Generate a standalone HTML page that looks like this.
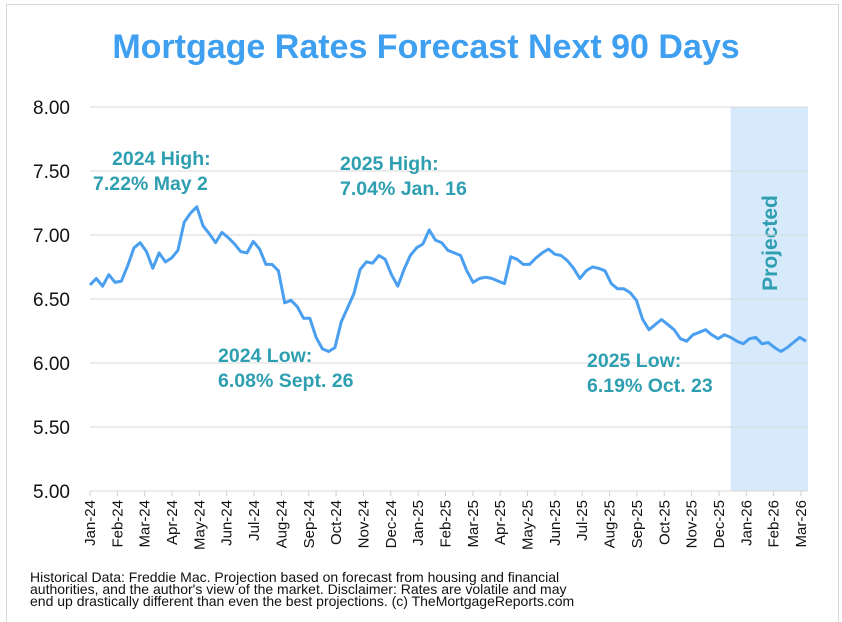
<!DOCTYPE html>
<html><head><meta charset="utf-8"><style>
body{margin:0;background:#fff;font-family:"Liberation Sans",sans-serif;}
#wrap{position:relative;width:842px;height:622px;overflow:hidden;}
#frame{position:absolute;left:6px;top:4px;width:831px;height:640px;border:1px solid #d8d8d8;}
</style></head><body>
<div id="wrap">
<div id="frame"></div>
<svg id="chart" width="842" height="622" style="position:absolute;left:0;top:0"></svg>
</div>
<script>
const months=["Jan-24","Feb-24","Mar-24","Apr-24","May-24","Jun-24","Jul-24","Aug-24","Sep-24","Oct-24","Nov-24","Dec-24","Jan-25","Feb-25","Mar-25","Apr-25","May-25","Jun-25","Jul-25","Aug-25","Sep-25","Oct-25","Nov-25","Dec-25","Jan-26","Feb-26","Mar-26"];
const yTicks=[5.00,5.50,6.00,6.50,7.00,7.50,8.00];
const rates=[6.61,6.66,6.60,6.69,6.63,6.64,6.76,6.90,6.94,6.87,6.74,6.86,6.79,6.82,6.88,7.10,7.17,7.22,7.07,7.01,6.94,7.02,6.98,6.93,6.87,6.86,6.95,6.89,6.77,6.77,6.72,6.47,6.49,6.44,6.35,6.35,6.20,6.11,6.09,6.12,6.32,6.43,6.54,6.73,6.79,6.78,6.84,6.81,6.69,6.60,6.73,6.84,6.90,6.93,7.04,6.96,6.94,6.88,6.86,6.84,6.72,6.63,6.66,6.67,6.66,6.64,6.62,6.83,6.81,6.77,6.77,6.82,6.86,6.89,6.85,6.84,6.80,6.74,6.66,6.72,6.75,6.74,6.72,6.62,6.58,6.58,6.55,6.49,6.34,6.26,6.30,6.34,6.30,6.26,6.19,6.17,6.22,6.24,6.26,6.22,6.19,6.22,6.20,6.17,6.15,6.19,6.20,6.15,6.16,6.12,6.09,6.12,6.16,6.20,6.17];
const projectedStart=102;
const annotations=[
 {l1:"2024 High:",l2:"7.22% May 2",x1:112,x2:93,y:165},
 {l1:"2025 High:",l2:"7.04% Jan. 16",x1:340,x2:340,y:170},
 {l1:"2024 Low:",l2:"6.08% Sept. 26",x1:218,x2:218,y:362},
 {l1:"2025 Low:",l2:"6.19% Oct. 23",x1:587,x2:587,y:367}
];
const NS="http://www.w3.org/2000/svg";
const svg=document.getElementById('chart');
const X0=90,X1=808,Y0=491,Y1=107;
function yS(v){return Y0-(v-5)/(8-5)*(Y0-Y1);}
function xI(i){return X0+i*(X1-2-X0)/(rates.length-1);}
function xM(i){return X0+i*(801-X0)/(months.length-1);}
function mk(tag,attrs,parent){const e=document.createElementNS(NS,tag);for(const k in attrs)e.setAttribute(k,attrs[k]);(parent||svg).appendChild(e);return e;}
let t=mk('text',{x:426,y:58,'text-anchor':'middle','font-size':'34','font-weight':'bold',fill:'#3f9ff0'});
t.textContent="Mortgage Rates Forecast Next 90 Days";


let band=mk('rect',{x:xI(projectedStart),y:Y1,width:X1-xI(projectedStart),height:Y0-Y1,fill:'#d7eafc'});


let pt=mk('text',{x:0,y:0,transform:`translate(777,243) rotate(-90)`,'text-anchor':'middle','font-size':'21','font-weight':'bold',fill:'#2e9fb0'});
pt.textContent="Projected";


yTicks.forEach(v=>{
 let g=mk('line',{x1:X0,x2:X1,y1:yS(v),y2:yS(v),stroke:'#d9d9d9','stroke-width':1});
 
 
 let l=mk('text',{x:70,y:yS(v)+7,'text-anchor':'end','font-size':'19',fill:'#111'});
 l.textContent=v.toFixed(2);
 
 
});
months.forEach((m,i)=>{
 const x=xM(i);
 let tk=mk('line',{x1:x,x2:x,y1:Y0,y2:Y0+5,stroke:'#d0d0d0','stroke-width':1});
 
 
 let l=mk('text',{x:0,y:0,transform:`translate(${x+5},${Y0+9}) rotate(-90)`,'text-anchor':'end','font-size':'15',fill:'#111'});
 l.textContent=m;
 
 
});
let d=rates.map((v,i)=>(i?'L':'M')+xI(i).toFixed(1)+','+yS(v).toFixed(1)).join(' ');
let p=mk('path',{d:d,fill:'none',stroke:'#4a9ff0','stroke-width':3,'stroke-linejoin':'round'});


annotations.forEach(a=>{
 let tx=mk('text',{x:a.x1,y:a.y,'font-size':'19.5','font-weight':'bold',fill:'#2e9fb0'});
 
 
 let s1=mk('tspan',{x:a.x1,dy:0},tx);s1.textContent=a.l1;
 let s2=mk('tspan',{x:a.x2,dy:25},tx);s2.textContent=a.l2;
});
["Historical Data: Freddie Mac. Projection based on forecast from housing and financial","authorities, and the author's view of the market. Disclaimer: Rates are volatile and may","end up drastically different than even the best projections. (c) TheMortgageReports.com"].forEach((s,i)=>{
 let f=mk('text',{x:30,y:582+i*12,'font-size':'14',fill:'#111'});
 f.textContent=s;
 
 
});
</script>
</body></html>
